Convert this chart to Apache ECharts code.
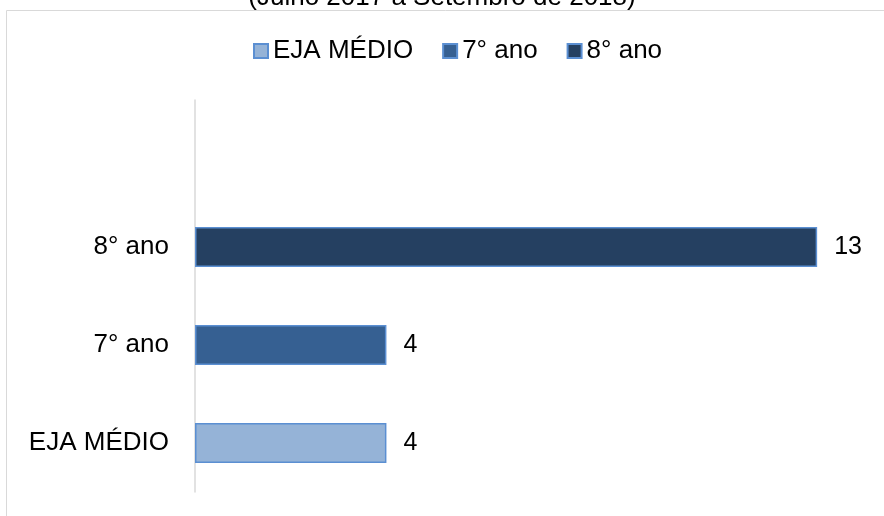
<!DOCTYPE html>
<html><head><meta charset="utf-8">
<script src="https://cdn.jsdelivr.net/npm/echarts@6/dist/echarts.min.js"></script>
<style>html,body{margin:0;padding:0;background:#fff}#c{width:884px;height:516px}</style>
</head><body><div id="c"></div>
<script>
const titleText = '(Julho 2017 a Setembro de 2018)';
const categories = ['EJA MÉDIO', '7° ano', '8° ano', ''];
const seriesNames = ['EJA MÉDIO', '7° ano', '8° ano'];
const values = [4, 4, 13];
const colors = ['#95B3D7', '#366092', '#254061'];

const chart = echarts.init(document.getElementById('c'));
const font = '"Liberation Sans", Arial, sans-serif';
const series = seriesNames.map((name, i) => ({
  name,
  type: 'bar',
  stack: 'all',
  barWidth: 40,
  itemStyle: { color: colors[i], borderColor: '#5B8FD2', borderWidth: 1.5 },
  label: { show: true, position: 'right', distance: 17, color: '#000', fontSize: 25, fontFamily: font, padding: [5, 0, 0, 0] },
  data: categories.map((c, j) => (j === i ? values[i] : '-'))
}));

chart.setOption({
  animation: false,
  title: { text: titleText, left: 'center', top: -20, textStyle: { fontSize: 26, fontWeight: 'normal', color: '#000', fontFamily: font } },
  graphic: [{ type: 'rect', shape: { x: 6.5, y: 10.5, width: 1000, height: 1000 }, style: { fill: 'none', stroke: '#d9d9d9', lineWidth: 1 }, z: -1 }],
  legend: {
    data: seriesNames, left: 248, top: 33, itemWidth: 14, itemHeight: 14, itemGap: 29,
    icon: 'rect',
    textStyle: { fontSize: 26, color: '#000', fontFamily: font }
  },
  grid: { left: 195, right: 19, top: 100, bottom: 24 },
  xAxis: { type: 'value', min: 0, max: 14, show: false },
  yAxis: {
    type: 'category', data: categories,
    axisLine: { show: true, lineStyle: { color: '#d9d9d9', width: 1.5 } },
    axisTick: { show: false },
    axisLabel: { fontSize: 26, color: '#000', fontFamily: font, margin: 26, padding: [5, 0, 0, 0] }
  },
  series
});
</script></body></html>
